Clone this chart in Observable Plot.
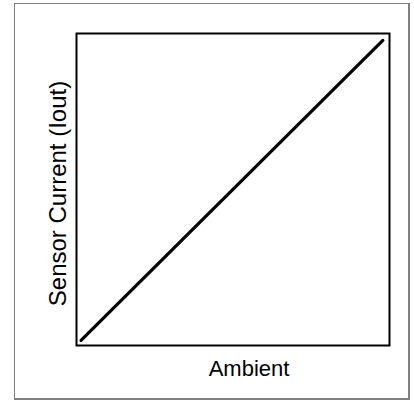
<!DOCTYPE html>
<html>
<head>
<meta charset="utf-8">
<script src="https://cdn.jsdelivr.net/npm/d3@7"></script>
<script src="https://cdn.jsdelivr.net/npm/@observablehq/plot@0.6"></script>
<style>
  html, body { margin: 0; padding: 0; background: #fff; }
  #wrap { position: relative; width: 414px; height: 401px; }
  #border { position: absolute; left: 14px; top: 3px; width: 393px; height: 394px;
            border-style: solid; border-color: #808080; border-width: 1px 2px 2px 1px; }
  #chart { position: absolute; left: 0; top: 0; }
</style>
</head>
<body>
<div id="wrap"><div id="border"></div><div id="chart"></div></div>
<script>
const ambient = [0, 1];
const current = [0, 1];
const xLabel = "Ambient";
const yLabel = "Sensor Current (Iout)";

const data = ambient.map((a, i) => ({ambient: a, current: current[i]}));

const chart = Plot.plot({
  width: 414,
  height: 401,
  marginLeft: 76,
  marginRight: 25,
  marginTop: 33,
  marginBottom: 56,
  style: {fontFamily: "Liberation Sans, Arial, sans-serif", fontSize: "22px", background: "transparent"},
  x: {domain: [-0.015, 1.022], axis: null},
  y: {domain: [-0.017, 1.023], axis: null},
  marks: [
    Plot.line(data, {x: "ambient", y: "current", stroke: "black", strokeWidth: 3.2}),
    Plot.frame({stroke: "black", strokeWidth: 2}),
    Plot.text([xLabel], {frameAnchor: "bottom", textAnchor: "middle", dx: 16, dy: 30, fontSize: 22, fill: "black"}),
    Plot.text([yLabel], {frameAnchor: "left", textAnchor: "middle", rotate: -90, dx: -18, dy: 4, fontSize: 24, fill: "black"})
  ]
});
document.getElementById("chart").appendChild(chart);
</script>
</body>
</html>
